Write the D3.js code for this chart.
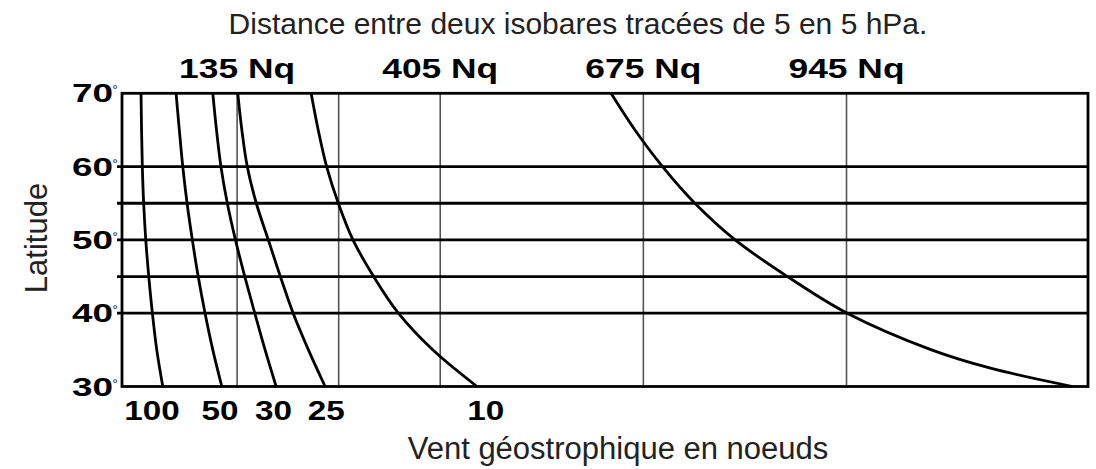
<!DOCTYPE html>
<html>
<head>
<meta charset="utf-8">
<script src="https://cdn.jsdelivr.net/npm/d3@7"></script>
<style>
  html, body { margin: 0; padding: 0; background: #fff; }
  svg { display: block; }
</style>
</head>
<body>
<svg id="chart" width="1096" height="469"></svg>
<script>
// ---------- data ----------
const latitudes = [70, 65, 60, 55, 50, 45, 40, 35, 30];
// distance (Nq) of each wind-speed curve at the latitudes above
const curve100 = [7.3, 8.0, 9.0, 10.8, 13.6, 17.6, 22.4, 28.2, 36.2];
const curve50  = [53.9, 58.2, 62.8, 68.5, 75.5, 83.3, 92.4, 102.7, 114.7];
const curve30  = [102.7, 107.6, 113.5, 122, 132.8, 145.2, 158.5, 172.2, 186.9];
const curve25  = [135.9, 141.3, 148.5, 160.5, 176.5, 192.5, 209.5, 229.8, 252];
const curve10  = [233.4, 242.8, 254, 269.5, 289, 316.5, 349.4, 395, 453.8];
// the outer curve is read on a finer latitude grid near 30°
const latitudesOuter = [70, 65, 60, 55, 50, 45, 40, 35, 32.5, 30];
const curveOuter     = [632, 663.8, 700.5, 743.5, 797, 866.5, 945.9, 1058, 1136.5, 1245.6];

const windLabels   = ["100", "50", "30", "25", "10"];
const windLabelNq  = [22, 112.4, 183.5, 253.4, 465.5];

const distTicks      = [135, 405, 675, 945];
const distTickLabels = ["135 Nq", "405 Nq", "675 Nq", "945 Nq"];
const distGrid       = [135, 270, 405, 675, 945];
const distDomain     = [-18, 1266];

const latTicks  = [70, 60, 50, 40, 30];
const latGrid   = [60, 55, 50, 45, 40];
const latDomain = [30, 70];

const title  = "Distance entre deux isobares tracées de 5 en 5 hPa.";
const xTitle = "Vent géostrophique en noeuds";
const yTitle = "Latitude";

// ---------- drawing ----------
const svg = d3.select("#chart");
const W = 1096, H = 469;
const margin = { left: 122, right: 8, top: 93.3, bottom: 82.5 };

const x = d3.scaleLinear().domain(distDomain).range([margin.left, W - margin.right]);
const y = d3.scaleLinear().domain(latDomain).range([H - margin.bottom, margin.top]);

const FONT = "'Liberation Sans', Arial, Helvetica, sans-serif";

// vertical grid lines (thin grey)
svg.append("g").selectAll("line").data(distGrid).join("line")
  .attr("x1", d => x(d)).attr("x2", d => x(d))
  .attr("y1", y(latDomain[1])).attr("y2", y(latDomain[0]))
  .attr("stroke", "#555").attr("stroke-width", 1.6);

// horizontal grid lines (thick black), slightly sticking out on the left
svg.append("g").selectAll("line").data(latGrid).join("line")
  .attr("x1", x(distDomain[0]) - 5).attr("x2", x(distDomain[1]))
  .attr("y1", d => y(d)).attr("y2", d => y(d))
  .attr("stroke", "#000").attr("stroke-width", 2.8);

// frame
svg.append("rect")
  .attr("x", x(distDomain[0])).attr("y", y(latDomain[1]))
  .attr("width", x(distDomain[1]) - x(distDomain[0]))
  .attr("height", y(latDomain[0]) - y(latDomain[1]))
  .attr("fill", "none").attr("stroke", "#000").attr("stroke-width", 2.8);

// curves
const series = [curve100, curve50, curve30, curve25, curve10]
  .map(c => latitudes.map((lat, i) => [lat, c[i]]));
series.push(latitudesOuter.map((lat, i) => [lat, curveOuter[i]]));

const line = d3.line()
  .x(d => x(d[1]))
  .y(d => y(d[0]))
  .curve(d3.curveCatmullRom.alpha(0.5));

svg.append("g").selectAll("path").data(series).join("path")
  .attr("d", line)
  .attr("fill", "none").attr("stroke", "#000").attr("stroke-width", 2.8)
  .attr("stroke-linecap", "butt");

// top distance labels
svg.append("g").selectAll("text").data(distTicks).join("text")
  .attr("x", d => x(d)).attr("y", 78)
  .attr("text-anchor", "middle")
  .attr("font-family", FONT).attr("font-weight", "bold").attr("font-size", 27)
  .attr("textLength", 116).attr("lengthAdjust", "spacingAndGlyphs")
  .attr("fill", "#000")
  .text((d, i) => distTickLabels[i]);

// latitude labels
const latG = svg.append("g").selectAll("g").data(latTicks).join("g");
latG.append("text")
  .attr("x", 113).attr("y", d => y(d) + 9)
  .attr("text-anchor", "end")
  .attr("font-family", FONT).attr("font-weight", "bold").attr("font-size", 25)
  .attr("textLength", 41).attr("lengthAdjust", "spacingAndGlyphs")
  .text(d => d);
latG.append("text")
  .attr("x", 112.5).attr("y", d => y(d) + 1)
  .attr("font-family", FONT).attr("font-size", 13)
  .text("°");

// wind speed labels at the bottom
svg.append("g").selectAll("text").data(windLabels).join("text")
  .attr("x", (d, i) => x(windLabelNq[i])).attr("y", 420)
  .attr("text-anchor", "middle")
  .attr("font-family", FONT).attr("font-weight", "bold").attr("font-size", 28)
  .attr("textLength", d => d.length * 18.5).attr("lengthAdjust", "spacingAndGlyphs")
  .text(d => d);

// title
svg.append("text")
  .attr("x", 578).attr("y", 34)
  .attr("text-anchor", "middle")
  .attr("font-family", FONT).attr("font-size", 30)
  .attr("fill", "#222")
  .text(title);

// x title
svg.append("text")
  .attr("x", 618).attr("y", 459)
  .attr("text-anchor", "middle")
  .attr("font-family", FONT).attr("font-size", 31)
  .attr("fill", "#222")
  .text(xTitle);

// y title
svg.append("text")
  .attr("transform", "translate(47,238) rotate(-90)")
  .attr("text-anchor", "middle")
  .attr("font-family", FONT).attr("font-size", 31)
  .attr("fill", "#222")
  .text(yTitle);
</script>
</body>
</html>
